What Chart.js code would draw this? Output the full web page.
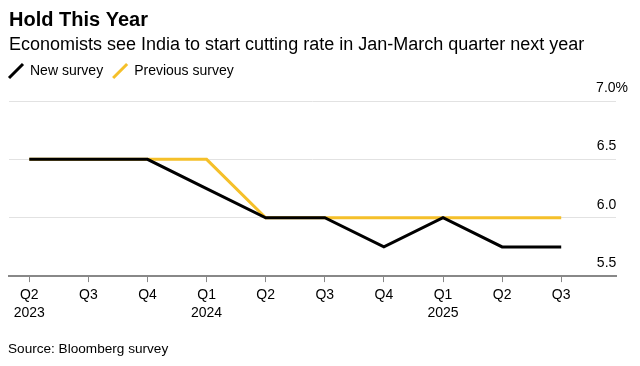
<!DOCTYPE html>
<html>
<head>
<meta charset="utf-8">
<script src="https://cdn.jsdelivr.net/npm/chart.js@4.4.1/dist/chart.umd.min.js"></script>
<style>
  html, body { margin: 0; padding: 0; background: #fff; }
  #wrap { position: relative; width: 640px; height: 366px; }
  #source { position: absolute; left: 8px; top: 341px; font: 13.6px "Liberation Sans", Arial, sans-serif; color: #000; }
</style>
</head>
<body>
<div id="wrap">
  <canvas id="myChart" width="640" height="366"></canvas>
  <div id="source">Source: Bloomberg survey</div>
</div>
<script>
// quarters on the x axis
var quarters = [['Q2', '2023'], ['Q3', ''], ['Q4', ''], ['Q1', '2024'], ['Q2', ''],
                ['Q3', ''], ['Q4', ''], ['Q1', '2025'], ['Q2', ''], ['Q3', '']];
var newSurvey = [6.5, 6.5, 6.5, 6.25, 6.0, 6.0, 5.75, 6.0, 5.75, 5.75];
var previousSurvey = [6.5, 6.5, 6.5, 6.5, 6.0, 6.0, 6.0, 6.0, 6.0, 6.0];
var yTicks = [5.5, 6.0, 6.5, 7.0];

var fontFamily = '"Liberation Sans", Arial, sans-serif';

function toPoints(values) {
    return values.map(function (v, i) { return { x: i, y: v }; });
}

// extra room between legend and plot, legend pulled to the left edge
var legendGap = {
    id: 'legendGap',
    beforeInit: function (chart) {
        var fitValue = chart.legend.fit;
        chart.legend.fit = function () {
            fitValue.bind(chart.legend)();
            this.height += 13;
        };
    },
    afterLayout: function (chart) {
        chart.legend.left -= 10;
        chart.legend.right -= 10;
    }
};

const ctx = document.getElementById('myChart');

const data = {
    datasets: [{
        label: 'New survey',
        data: toPoints(newSurvey),
        borderColor: '#000000',
        backgroundColor: '#000000',
        borderWidth: 3,
        pointRadius: 0,
        pointStyle: 'line',
        pointRotation: -45,
        tension: 0,
    }, {
        label: 'Previous survey',
        data: toPoints(previousSurvey),
        borderColor: '#F5C02A',
        backgroundColor: '#F5C02A',
        borderWidth: 3,
        pointRadius: 0,
        pointStyle: 'line',
        pointRotation: -45,
        tension: 0,
    }]
};

const options = {
    responsive: false,
    animation: false,
    layout: {
        padding: { left: 9, right: 0, top: 0, bottom: 39.5 }
    },
    plugins: {
        title: {
            display: true,
            text: 'Hold This Year',
            align: 'start',
            color: '#000',
            padding: { top: 8, bottom: 0 },
            font: { family: fontFamily, size: 20, weight: 'bold' }
        },
        subtitle: {
            display: true,
            text: 'Economists see India to start cutting rate in Jan-March quarter next year',
            align: 'start',
            color: '#000',
            padding: { top: 4, bottom: 0 },
            font: { family: fontFamily, size: 18, lineHeight: 1.0 }
        },
        legend: {
            display: true,
            position: 'top',
            align: 'start',
            labels: {
                usePointStyle: true,
                color: '#000',
                padding: 10,
                font: { family: fontFamily, size: 14 }
            }
        },
        tooltip: { enabled: false }
    },
    scales: {
        x: {
            type: 'linear',
            min: -0.343,
            max: 9.927,
            grid: {
                drawOnChartArea: false,
                drawTicks: true,
                tickLength: 6,
                color: '#888'
            },
            border: { display: true, color: '#888', width: 2 },
            ticks: {
                stepSize: 1,
                includeBounds: false,
                autoSkip: false,
                maxRotation: 0,
                padding: 4,
                color: '#000',
                font: { family: fontFamily, size: 14, lineHeight: 1.3 },
                callback: function (value) {
                    return quarters[value] || '';
                }
            }
        },
        y: {
            position: 'right',
            min: yTicks[0],
            max: yTicks[yTicks.length - 1],
            grid: {
                drawTicks: false,
                color: '#e2e2e2'
            },
            border: { display: false },
            afterBuildTicks: function (axis) {
                axis.ticks = yTicks.map(function (v) { return { value: v }; });
            },
            ticks: {
                mirror: true,
                padding: 12,
                labelOffset: -13,
                color: '#000',
                font: { family: fontFamily, size: 14 },
                callback: function (value) {
                    var s = value.toFixed(1);
                    return value === 7 ? s + '%' : s + ' \u2007';
                }
            }
        }
    }
};

new Chart(ctx, {
    type: 'line',
    data: data,
    plugins: [legendGap],
    options: options,
});
</script>
</body>
</html>
